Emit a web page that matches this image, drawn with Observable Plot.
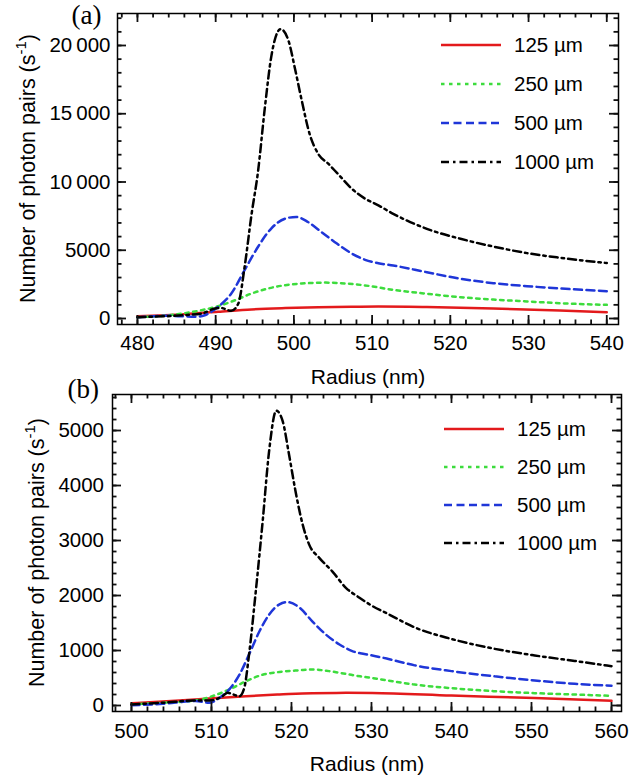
<!DOCTYPE html>
<html><head><meta charset="utf-8">
<script src="https://cdn.jsdelivr.net/npm/d3@7"></script>
<script src="https://cdn.jsdelivr.net/npm/@observablehq/plot@0.6"></script>
<style>
html,body{margin:0;padding:0;background:#fff;}
#chart{width:629px;}
#chart svg{display:block;overflow:visible !important;background:transparent !important;}
</style></head><body><div id="chart"></div>
<script>
// ---- data ----
const seriesNames = ["125 µm", "250 µm", "500 µm", "1000 µm"];
const seriesColors = ["#e31a1c", "#3ddc3d", "#1f36d8", "#000000"];
const seriesDash = [null, "3.5,4.5", "8,4.5", "8,4,2.5,4"];

const xLabel = "Radius (nm)";
const yLabelMain = "Number of photon pairs (s";
const yLabelSup = "-1";

// panel (a)
const aTag = "(a)";
const aXTicks = [480, 490, 500, 510, 520, 530, 540];
const aYTicks = [0, 5000, 10000, 15000, 20000];
const aYTickLabels = ["0", "5000", "10\u2009000", "15\u2009000", "20\u2009000"];
const a125 = [[480,170],[486,320],[490.3,490],[494.6,660],[498.9,760],[503.1,830],[507.4,860],[510.8,880],[517,840],[525.5,730],[534,590],[540,460]];
const a250 = [[480,100],[484,240],[488.2,610],[490.3,900],[492.5,1340],[494.6,1830],[496.7,2200],[498.9,2440],[501,2560],[504,2630],[506.5,2570],[509,2430],[512.7,2100],[517,1810],[521.3,1560],[525.5,1390],[529.8,1250],[534,1120],[540,1000]];
const a500 = [[480,80],[484,200],[487.5,130],[488.6,240],[490.3,850],[492,1830],[493.7,3540],[495.4,5240],[497.1,6590],[498.9,7320],[500.3,7440],[501.8,7070],[503.5,6340],[505.2,5610],[507.4,4760],[509.1,4300],[510.8,4050],[512.7,3880],[517,3390],[521.3,2910],[525.5,2590],[529.8,2370],[534,2200],[540,2000]];
const a1000 = [[480,100],[486.1,250],[488.2,360],[489.9,730],[490.6,780],[492,560],[492.9,1100],[493.7,3780],[494.6,7680],[495.4,10700],[496.3,15500],[497.1,19150],[498.3,21200],[499.3,20370],[500.1,18410],[501,15980],[502,13540],[503.1,12070],[504.4,11340],[505.6,10610],[507.4,9510],[509.1,8780],[510.8,8290],[512.7,7670],[517,6570],[521.3,5840],[525.5,5270],[529.8,4790],[534,4450],[540,4060]];

// panel (b)
const bTag = "(b)";
const bXTicks = [500, 510, 520, 530, 540, 550, 560];
const bYTicks = [0, 1000, 2000, 3000, 4000, 5000];
const bYTickLabels = ["0", "1000", "2000", "3000", "4000", "5000"];
const b125 = [[500,40],[506,90],[510.1,130],[514.3,170],[518.5,200],[522.6,225],[526.8,230],[530.1,228],[540,180],[550.4,135],[560,85]];
const b250 = [[500,20],[503.9,50],[508,90],[510.1,170],[512.2,290],[514.3,440],[516.4,560],[518.5,610],[521,640],[522.6,655],[524.7,625],[526.8,575],[528.6,530],[530.1,500],[532,455],[535.4,380],[540,315],[545.4,260],[550.4,225],[555.4,200],[560,175]];
const b500 = [[500,5],[503.9,30],[508,80],[509.7,50],[511,140],[512.2,290],[513.5,560],[514.7,930],[516,1350],[517.2,1650],[518.5,1840],[519.5,1880],[521,1780],[522.6,1530],[524.3,1290],[526,1110],[527.6,990],[528.6,950],[530.1,910],[532,850],[535.4,730],[540,625],[545.4,530],[550.4,455],[555.4,395],[560,360]];
const b1000 = [[500,20],[503.9,50],[508,90],[509.7,90],[511.4,170],[512,230],[513.5,170],[514.1,320],[514.7,930],[515.5,2020],[516.4,3350],[517.2,4620],[518.1,5360],[518.9,5170],[519.7,4560],[520.5,3900],[521.4,3290],[522.2,2930],[523.5,2680],[525.1,2440],[526.8,2140],[528.5,1960],[530.1,1810],[532,1670],[535.4,1420],[540,1210],[545.4,1030],[550.4,910],[555.4,810],[560,715]];

// ---- rendering ----
const FONT = '"Liberation Sans", Arial, Helvetica, sans-serif';
const SERIF = '"Liberation Serif", "Times New Roman", serif';

function legendMark(p) {
  return (index, scales, values, dims) => {
    const g = d3.create("svg:g").attr("font-family", FONT).attr("font-size", 20.5)
      .attr("fill", "black").attr("text-anchor", "start");
    const right = dims.width - dims.marginRight;
    seriesNames.forEach((name, k) => {
      const y = dims.marginTop + p.legendTop + k * p.legendStep;
      g.append("line").attr("x1", right - 177).attr("x2", right - 117).attr("y1", y).attr("y2", y)
        .attr("stroke", seriesColors[k]).attr("stroke-width", 2.4).attr("stroke-dasharray", seriesDash[k]);
      g.append("text").attr("x", right - 104).attr("y", y).attr("dy", "0.35em")
        .attr("text-anchor", "start").text(name);
    });
    return g.node();
  };
}

// inward frame ticks on all four sides as short rules; tick length in px converted to data units
function frameTicks(p) {
  const frameW = 629 - p.ml - p.mr, frameH = p.height - p.mt - p.mb;
  const [x0, x1] = p.xDomain, [y0, y1] = p.yDomain;
  const ux = (x1 - x0) / frameW, uy = (y1 - y0) / frameH;
  const out = [];
  for (const [vals, len] of [[p.xMinor, 4.5], [p.xTicks, 9]]) {
    out.push(Plot.ruleX(vals, {x: d => d, y1: y0, y2: y0 + len * uy, stroke: "#111", strokeWidth: 1.8}));
    out.push(Plot.ruleX(vals, {x: d => d, y1: y1, y2: y1 - len * uy, stroke: "#111", strokeWidth: 1.8}));
  }
  for (const [vals, len] of [[p.yMinor, 4.5], [p.yTicks, 9]]) {
    out.push(Plot.ruleY(vals, {y: d => d, x1: x0, x2: x0 + len * ux, stroke: "#111", strokeWidth: 1.8}));
    out.push(Plot.ruleY(vals, {y: d => d, x1: x1, x2: x1 - len * ux, stroke: "#111", strokeWidth: 1.8}));
  }
  return out;
}

function yLabelMark(p) {
  return (index, scales, values, dims) => {
    const cx = dims.marginLeft + p.yLabelDx;
    const cy = (dims.marginTop + dims.height - dims.marginBottom) / 2;
    const t = d3.create("svg:text")
      .attr("transform", `translate(${cx},${cy}) rotate(-90)`)
      .attr("text-anchor", "middle").attr("font-family", FONT).attr("font-size", 21.5)
      .attr("fill", "black").attr("dy", "0.32em");
    t.append("tspan").text(yLabelMain);
    t.append("tspan").attr("font-size", 15).attr("dy", -9).text(yLabelSup);
    t.append("tspan").attr("dy", 9).text(")");
    return t.node();
  };
}

function makePanel(p) {
  const fmtY = new Map(p.yTicks.map((v, i) => [v, p.yTickLabels[i]]));
  const lines = p.series.map((pts, k) => Plot.line(pts, {
    x: d => d[0], y: d => d[1], stroke: seriesColors[k], strokeWidth: 2.5,
    strokeDasharray: seriesDash[k], curve: "monotone-x"
  }));
  return Plot.plot({
    width: 629, height: p.height,
    marginTop: p.mt, marginBottom: p.mb, marginLeft: p.ml, marginRight: p.mr,
    x: {domain: p.xDomain, axis: null},
    y: {domain: p.yDomain, axis: null},
    style: {fontFamily: FONT, color: "black", overflow: "visible", background: "transparent"},
    marks: [
      ...lines,
      ...frameTicks(p),
      Plot.frame({stroke: "black", strokeWidth: 1.5}),
      Plot.axisX(p.xTicks, {anchor: "bottom", tickSize: 0, tickPadding: p.xPad, fontSize: 20.5, label: null, fill: "black", tickFormat: d => String(d)}),
      Plot.axisY(p.yTicks, {anchor: "left", tickSize: 0, tickPadding: p.yPad, fontSize: 20.5, label: null, fill: "black", tickFormat: d => fmtY.get(d)}),
      Plot.text([xLabel], {frameAnchor: "bottom", dy: p.xLabelDy, lineAnchor: "bottom", textAnchor: "middle", fontSize: 21, fill: "black"}),
      Plot.text([p.tag], {frameAnchor: "top-left", dx: p.tagDx, dy: p.tagDy, textAnchor: "start", lineAnchor: "bottom", fontSize: 27, fontFamily: SERIF, fill: "black"}),
      yLabelMark(p),
      legendMark(p)
    ]
  });
}

const panelA = makePanel({
  tag: aTag, series: [a125, a250, a500, a1000],
  height: 392, mt: 13, mb: 68, ml: 117, mr: 11,
  xDomain: [477.45, 541.5], yDomain: [-440, 22344],
  xTicks: aXTicks, xMinor: d3.range(478, 541, 2),
  yTicks: aYTicks, yTickLabels: aYTickLabels, yMinor: d3.range(0, 22001, 1000),
  xPad: 11, yPad: 7, xLabelDy: 59, tagDx: -46, tagDy: 10, yLabelDx: -89,
  legendTop: 32, legendStep: 39
});
const panelB = makePanel({
  tag: bTag, series: [b125, b250, b500, b1000],
  height: 390, mt: 2, mb: 71, ml: 112, mr: 8,
  xDomain: [497.63, 561.25], yDomain: [-109, 5655],
  xTicks: bXTicks, xMinor: d3.range(498, 561, 2),
  yTicks: bYTicks, yTickLabels: bYTickLabels, yMinor: d3.range(0, 5601, 200),
  xPad: 12, yPad: 8.5, xLabelDy: 59, tagDx: -45, tagDy: 3, yLabelDx: -74.5,
  legendTop: 35, legendStep: 38
});
document.getElementById("chart").append(panelA, panelB);
</script></body></html>
